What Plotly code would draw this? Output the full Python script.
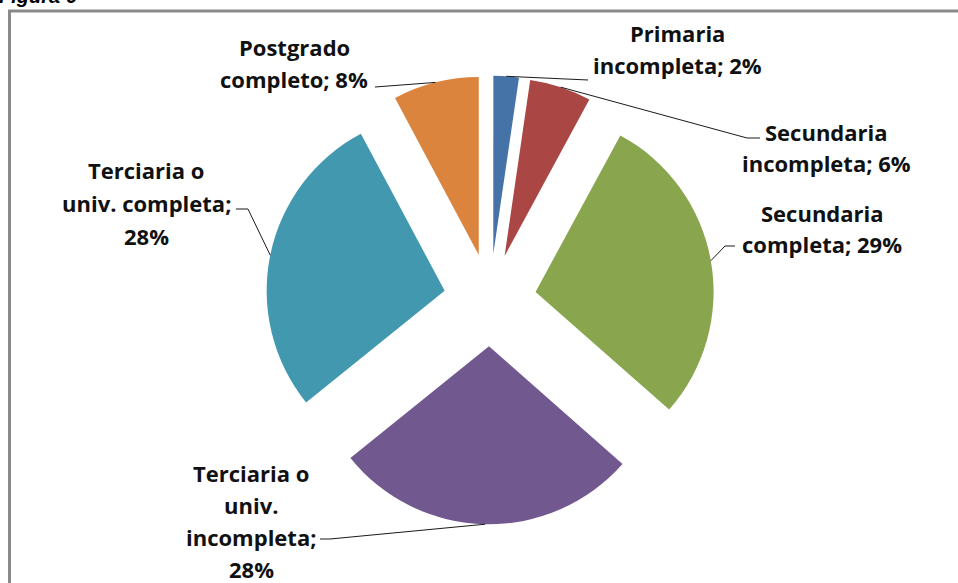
import math
import plotly.graph_objects as go

# ---------------- data ----------------
categories = [
    "Primaria incompleta",
    "Secundaria incompleta",
    "Secundaria completa",
    "Terciaria o univ. incompleta",
    "Terciaria o univ. completa",
    "Postgrado completo",
]
values = [2.3, 5.6, 28.6, 27.7, 28.0, 7.8]
label_lines = [
    ["Primaria", "incompleta; {p}%"],
    ["Secundaria", "incompleta; {p}%"],
    ["Secundaria", "completa; {p}%"],
    ["Terciaria o", "univ.", "incompleta;", "{p}%"],
    ["Terciaria o", "univ. completa;", "{p}%"],
    ["Postgrado", "completo; {p}%"],
]
colors = ["#4572A7", "#AA4643", "#89A54E", "#71588F", "#4198AF", "#DB843D"]

# ---------------- layout geometry (pixels) ----------------
W, H = 958, 583
CX, CY = 490, 300
PULL = 0.26
R = 178
HALF = R * (1 + PULL)

# label placement: centre x, first line y, line spacing
label_pos = [
    (677, 33, 32),
    (826, 132, 31),
    (822, 213, 31),
    (251, 473, 32),
    (146, 170, 33),
    (294, 47, 32),
]
# leader line waypoints after the arc anchor
leader_pts = [
    [(588, 80)],
    [(747, 138), (760, 138)],
    [(725, 246), (735, 246)],
    [(330, 539), (320, 539)],
    [(248, 209), (236, 209)],
    [(375, 87)],
]


def px(x):
    return x / W


def py(y):
    return 1 - y / H


fig = go.Figure()
fig.add_trace(go.Pie(
    labels=categories,
    values=values,
    sort=False,
    direction="clockwise",
    rotation=0,
    pull=[PULL] * len(values),
    marker=dict(colors=colors, line=dict(width=0)),
    textinfo="none",
    hoverinfo="label+percent",
    showlegend=False,
    domain=dict(x=[px(CX - HALF), px(CX + HALF)], y=[py(CY + HALF), py(CY - HALF)]),
))

total = sum(values)
annotations = []
shapes = []
cum = 0.0
for i, v in enumerate(values):
    frac = v / total
    mid = (cum + frac / 2) * 2 * math.pi
    cum += frac
    pct = round(frac * 100)
    ax = CX + (1 + PULL) * R * math.sin(mid)
    ay = CY - (1 + PULL) * R * math.cos(mid)
    pts = [(ax, ay)] + leader_pts[i]
    path = "M " + " L ".join(f"{px(x):.5f},{py(y):.5f}" for x, y in pts)
    shapes.append(dict(type="path", xref="paper", yref="paper", path=path,
                       line=dict(color="#1a1a1a", width=1)))
    lx, ly, sp = label_pos[i]
    for j, line in enumerate(label_lines[i]):
        annotations.append(dict(
            x=px(lx), y=py(ly + j * sp), xref="paper", yref="paper",
            text=line.format(p=pct), showarrow=False,
            xanchor="center", yanchor="middle",
            font=dict(family="Open Sans", size=22, color="#111111", weight="bold"),
        ))

# chart frame (gray border, only left/top visible)
shapes.append(dict(type="rect", xref="paper", yref="paper",
                   x0=px(9.5), x1=1.2, y0=-0.2, y1=py(11),
                   line=dict(color="#8a8a8a", width=3), fillcolor="rgba(0,0,0,0)"))

# cut-off caption at top-left
annotations.append(dict(
    x=px(-3), y=py(9), xref="paper", yref="paper",
    text="<b><i>Figura 6</i></b>", showarrow=False,
    xanchor="left", yanchor="bottom",
    font=dict(family="Liberation Sans", size=20, color="#000000"),
))

fig.update_layout(
    width=W, height=H,
    margin=dict(l=0, r=0, t=0, b=0),
    paper_bgcolor="white",
    plot_bgcolor="white",
    shapes=shapes,
    annotations=annotations,
)

fig.write_html("out.html")
